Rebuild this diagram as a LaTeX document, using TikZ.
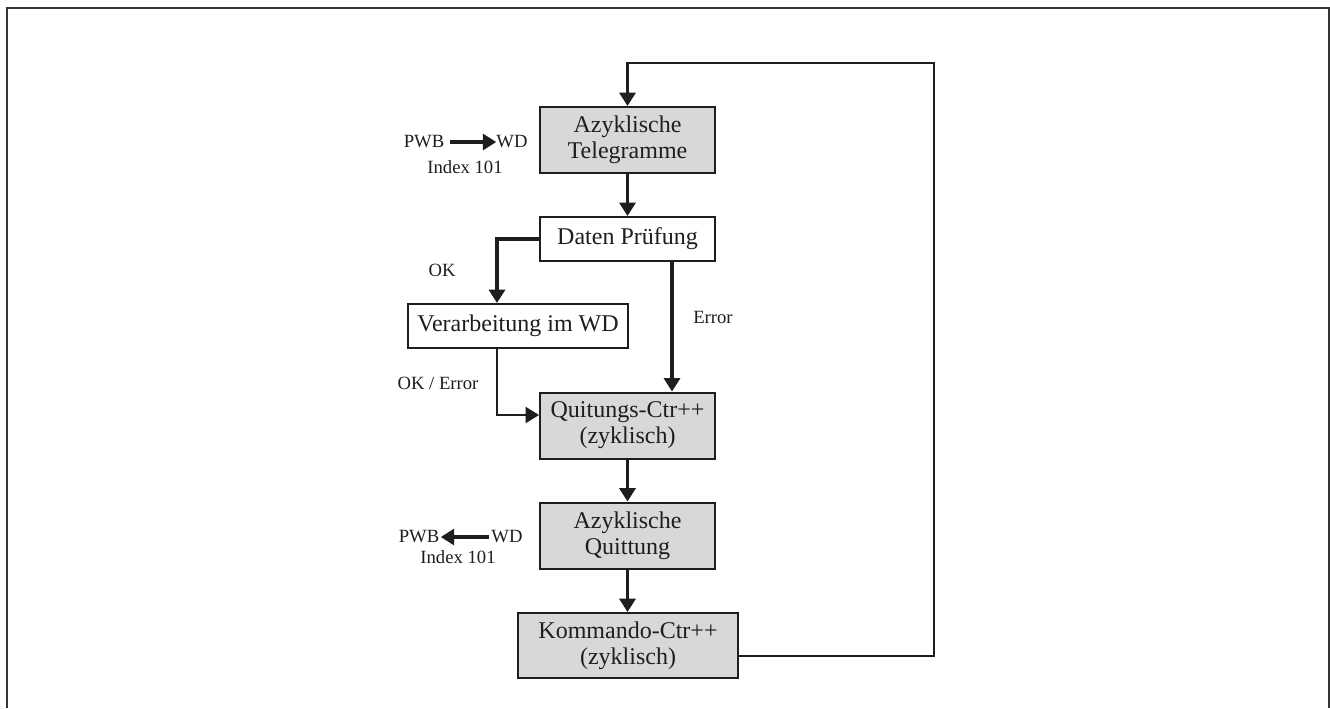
\documentclass[tikz,border=0pt]{standalone}
\usepackage{fontspec}
\setmainfont{Liberation Serif}
\usetikzlibrary{arrows.meta,calc}
\definecolor{boxgray}{HTML}{D8D8D8}
\definecolor{ink}{HTML}{1E1E1E}
\tikzset{
  x=0.75pt, y=-0.75pt,
  box/.style={draw=ink, line width=1.5pt, text=ink, align=center, inner sep=0pt,
    font=\fontsize{18}{19.5}\selectfont},
  graybox/.style={box, fill=boxgray},
  lbl/.style={text=ink, inner sep=0pt, font=\fontsize{14}{15}\selectfont},
  arr/.style={draw=ink, line width=2.3pt, -{Triangle[length=10pt,width=12pt]}},
  thinarr/.style={draw=ink, line width=1.4pt, -{Triangle[length=10pt,width=12pt]}},
  plainline/.style={draw=ink, line width=1.5pt}
}
\begin{document}
\begin{tikzpicture}
\useasboundingbox (0,0) rectangle (1330,708);
\fill[white] (0,0) rectangle (1330,708);
% frame
\draw[draw=ink!90, line width=1.5pt] (6.5,708) -- (6.5,7.5) -- (1329,7.5) -- (1329,708);

% boxes
\node[graybox, minimum width=131.25pt, minimum height=49.5pt] (az1) at (627.5,140) {Azyklische\\Telegramme};
\node[box, minimum width=131.25pt, minimum height=33pt] (dp) at (627.5,239) {Daten Prüfung};
\node[box, minimum width=165pt, minimum height=33pt] (vw) at (518,326) {Verarbeitung im WD};
\node[graybox, minimum width=131.25pt, minimum height=49.5pt] (qc) at (627.5,425.5) {Quitungs-Ctr++\\(zyklisch)};
\node[graybox, minimum width=131.25pt, minimum height=49.5pt] (aq) at (627.5,535.5) {Azyklische\\Quittung};
\node[graybox, minimum width=165pt, minimum height=48.75pt] (kc) at (628,645.5) {Kommando-Ctr++\\(zyklisch)};

% side labels
\node[lbl] (pwb1) at (424,142) {PWB};
\node[lbl] (wd1) at (512,142) {WD};
\node[lbl] (idx1) at (465,167) {Index 101};
\node[lbl] (pwb2) at (419,537) {PWB};
\node[lbl] (wd2) at (507,537) {WD};
\node[lbl] (idx2) at (458,557) {Index 101};
\node[lbl] (ok) at (442,270) {OK};
\node[lbl] (err) at (713,317) {Error};
\node[lbl] (okerr) at (438,383) {OK / Error};

\draw[arr] ([xshift=4pt]pwb1.east) -- (wd1.west);
\draw[arr] ([xshift=-2pt]wd2.west) -- ([xshift=1pt]pwb2.east);

% connectors
\coordinate (okc) at (497,239);
\coordinate (okq) at (497,415);
\coordinate (loopB) at (934,656);
\coordinate (loopT) at (934,63);
\draw[arr] (az1.south) -- (dp.north);
\draw[arr] (dp.west) -- (okc) -- (okc |- vw.north);
\draw[arr] ($(dp.south)+(44.5,0)$) -- ($(qc.north)+(44.5,0)$);
\draw[thinarr] (vw.south -| okq) -- (okq) -- (okq -| qc.west);
\draw[arr] (qc.south) -- (aq.north);
\draw[arr] (aq.south) -- (aq.south |- kc.north);
\draw[plainline] (kc.east |- loopB) -- (loopB) -- (loopT) -- (loopT -| az1.north);
\draw[arr] ([yshift=0.75pt]loopT -| az1.north) -- (az1.north);
\end{tikzpicture}
\end{document}
